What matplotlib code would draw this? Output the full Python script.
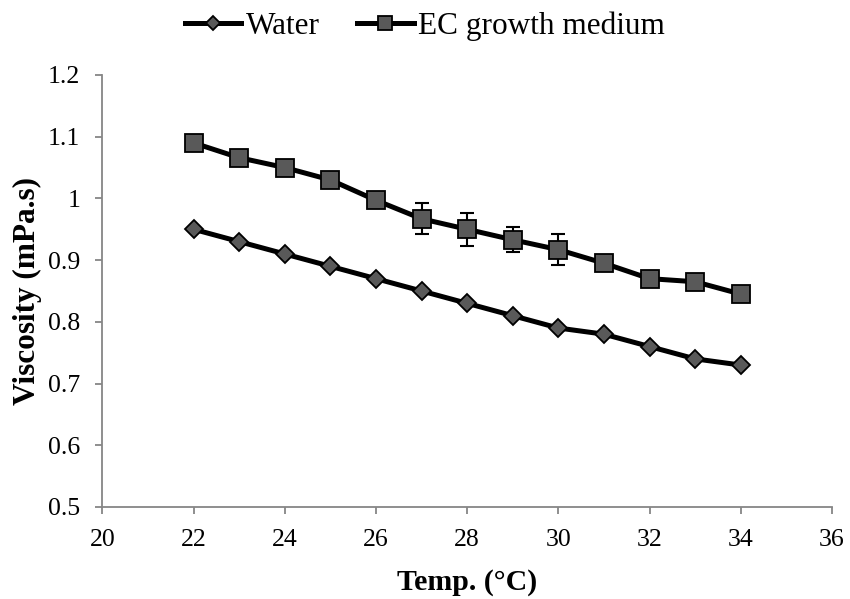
import matplotlib
matplotlib.use('Agg')
import matplotlib.pyplot as plt
import numpy as np

plt.rcParams['font.family'] = ['Liberation Serif', 'DejaVu Serif']

# data
temp = [22, 23, 24, 25, 26, 27, 28, 29, 30, 31, 32, 33, 34]
water = [0.95, 0.93, 0.91, 0.89, 0.87, 0.85, 0.83, 0.81, 0.79, 0.78, 0.76, 0.74, 0.73]
ec_medium = [1.09, 1.066, 1.05, 1.03, 0.997, 0.967, 0.95, 0.933, 0.917, 0.895, 0.87, 0.865, 0.845]
ec_err = [0, 0, 0, 0, 0, 0.025, 0.027, 0.02, 0.025, 0, 0, 0, 0]

fig = plt.figure(figsize=(8.5, 5.99), dpi=100)
ax = fig.add_axes([0.1204, 0.1536, 0.8584, 0.7212])

grey = '#595959'
axcol = '#868686'

# error bars only where nonzero
err = np.array(ec_err)
mask = err > 0
ax.errorbar(np.array(temp)[mask], np.array(ec_medium)[mask], yerr=err[mask],
            fmt='none', ecolor='black', elinewidth=1.5, capsize=5, capthick=1.5, zorder=2)

ax.plot(temp, water, color='black', lw=3.6, marker='D', ms=9.5,
        mfc=grey, mec='black', mew=1.3, label='Water', zorder=3)
ax.plot(temp, ec_medium, color='black', lw=3.6, marker='s', ms=13.5,
        mfc=grey, mec='black', mew=1.3, label='EC growth medium', zorder=3)

ax.set_xlim(20, 36)
ax.set_ylim(0.5, 1.2)
ax.set_xticks(np.arange(20, 37, 2))
ax.set_yticks(np.arange(0.5, 1.21, 0.1))
ax.set_yticklabels(['0.5', '0.6', '0.7', '0.8', '0.9', '1', '1.1', '1.2'])

for s in ['top', 'right']:
    ax.spines[s].set_visible(False)
for s in ['left', 'bottom']:
    ax.spines[s].set_color(axcol)
    ax.spines[s].set_linewidth(1.3)
ax.tick_params(axis='both', direction='out', length=5, width=1.3,
               color=axcol, labelsize=18.5, pad=11)

ax.set_xlabel('Temp. (°C)', fontsize=21.5, fontweight='bold', labelpad=12.5)
ax.set_ylabel('Viscosity (mPa.s)', fontsize=22.5, fontweight='bold', labelpad=4)

leg = fig.legend(loc='center', bbox_to_anchor=(0.5, 0.957), ncol=2, frameon=False,
                 fontsize=22.5, handlelength=1.8, handletextpad=0.15, columnspacing=1.2,
                 markerscale=0.75)

plt.savefig('out.png', dpi=100)
